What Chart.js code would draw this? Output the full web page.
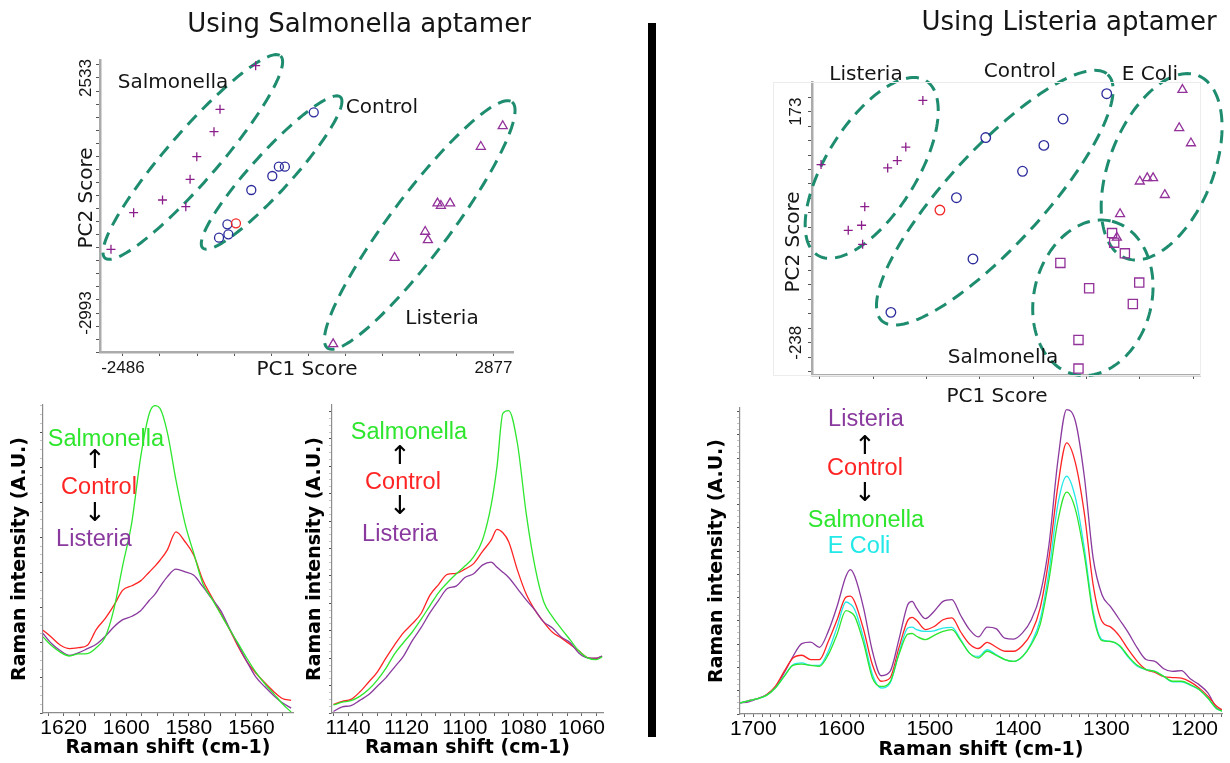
<!DOCTYPE html>
<html>
<head>
<meta charset="utf-8">
<script src="https://cdn.jsdelivr.net/npm/chart.js"></script>
<style>
  body { margin: 0; background: #fff; }
  #fig { position: relative; width: 1230px; height: 763px; overflow: hidden; }
  canvas { position: absolute; }
  #bar { position: absolute; left: 648px; top: 23px; width: 8px; height: 714px; background: #000; }
</style>
</head>
<body>
<div id="fig">
  <canvas id="pcaSal" width="540" height="390" style="left:0;top:0"></canvas>
  <canvas id="pcaList" width="495" height="410" style="left:735px;top:0"></canvas>
  <canvas id="specA" width="300" height="368" style="left:0;top:395px"></canvas>
  <canvas id="specB" width="315" height="368" style="left:295px;top:395px"></canvas>
  <canvas id="specC" width="535" height="368" style="left:695px;top:395px"></canvas>
  <div id="bar"></div>
</div>
<script>
// PCA scores, Salmonella aptamer
const saSalmonellaPC1 = [-565, -1081, -1168, -1417, -1514, -1913, -1576, -2331, -2659];
const saSalmonellaPC2 = [2822, 1797, 1271, 683, 151, -335, -493, -634, -1494];
const saControlPC1 = [276, -142, -229, -324, -628, -974, -850, -960, -1095];
const saControlPC2 = [1727, 448, 448, 229, -100, -907, -883, -1142, -1222];
const saListeriaPC1 = [3011, 2694, 2067, 2116, 2250, 1889, 1928, 1446, 557];
const saListeriaPC2 = [1405, 918, -413, -469, -413, -1080, -1276, -1692, -3721];
const saPC1Labels = [-2486, 2877];
const saPC2Labels = [2533, -2993];

// PCA scores, Listeria aptamer
const laListeriaPC1 = [-107, -139, -155, -173, -298, -216, -222, -247, -220];
const laListeriaPC2 = [193, 110, 86, 73, 79, 4, -29, -38, -63];
const laControlPC1 = [238, 156, 120, 80, 11, -44, -75, -13, -167];
const laControlPC2 = [205, 160, 113, 67, 127, 20, -2, -89, -184];
const laEcoliPC1 = [380, 374, 396, 300, 314, 325, 347, 263, 257];
const laEcoliPC2 = [212, 144, 117, 49, 55, 55, 25, -9, -51];
const laSalmonellaPC1 = [248, 252, 272, 151, 299, 205, 287, 185, 185];
const laSalmonellaPC2 = [-43, -60, -79, -96, -131, -141, -169, -233, -284];
const laPC2Labels = [173, -238];

// index of the highlighted control sample
const controlMark = 6;

// spectra 1545-1630 cm-1
const shiftA = [1626.6, 1623.8, 1621.0, 1618.1, 1615.3, 1612.4, 1609.6, 1606.7, 1603.9, 1601.1, 1598.2, 1595.4, 1592.6, 1590.8, 1589.2, 1586.9, 1584.1, 1581.2, 1578.4, 1575.5, 1572.7, 1569.9, 1567.1, 1564.2, 1561.4, 1558.6, 1555.7, 1552.9, 1550.1, 1547.3];
const salmonellaA = [24.7, 21.8, 19.7, 18.5, 19.2, 19.3, 21.2, 24.7, 33.9, 48.0, 62.0, 83.0, 97.3, 99.8, 98.9, 91.3, 75.6, 61.5, 51.8, 42.0, 37.2, 32.3, 27.4, 22.5, 17.7, 13.3, 9.5, 6.3, 3.0, 0.3];
const controlA = [26.9, 24.5, 22.0, 20.9, 21.2, 22.0, 27.1, 30.7, 35.0, 39.9, 41.3, 42.9, 45.8, 47.7, 49.6, 52.9, 58.8, 55.6, 51.2, 43.1, 37.7, 32.5, 27.4, 21.5, 16.6, 13.0, 9.8, 7.0, 4.7, 4.1];
const listeriaA = [25.8, 22.5, 20.2, 18.7, 19.5, 20.9, 22.3, 24.9, 28.0, 30.3, 31.4, 33.2, 36.6, 38.6, 41.0, 44.2, 46.7, 45.8, 44.7, 41.0, 37.2, 33.4, 27.7, 22.0, 16.6, 11.7, 8.5, 5.7, 3.3, 1.6];

// spectra 1050-1145 cm-1
const shiftB = [1145, 1142, 1139, 1136, 1133, 1130, 1127, 1124, 1121, 1118, 1115, 1112, 1109, 1106, 1103, 1100, 1097, 1094, 1091, 1089, 1087, 1085, 1082, 1079, 1076, 1073, 1070, 1067, 1064, 1061, 1058, 1055, 1053];
const salmonellaB = [2.6, 3.5, 4.0, 5.4, 7.6, 10.7, 14.6, 19.3, 22.9, 26.3, 30.4, 34.8, 39.1, 42.3, 45.1, 47.7, 50.7, 56.1, 67.5, 80.0, 97.3, 98.2, 87.5, 64.8, 47.5, 36.1, 31.2, 27.4, 23.8, 20.2, 17.9, 17.3, 18.2];
const controlB = [2.8, 3.8, 4.4, 6.8, 10.0, 13.3, 17.9, 22.2, 26.1, 29.0, 32.3, 38.2, 41.7, 45.0, 45.3, 46.7, 48.5, 52.4, 56.1, 59.6, 58.5, 55.6, 46.4, 38.6, 33.4, 29.5, 26.2, 24.4, 22.3, 20.2, 18.0, 17.7, 18.4];
const listeriaB = [0.5, 2.0, 2.4, 4.1, 5.9, 8.7, 11.5, 15.0, 18.5, 23.5, 27.7, 32.5, 36.6, 40.4, 41.2, 44.0, 45.2, 48.0, 49.0, 47.3, 45.7, 44.0, 40.4, 36.7, 33.4, 29.6, 27.6, 24.7, 22.9, 19.5, 17.9, 17.8, 18.5];

// spectra 1170-1715 cm-1, Listeria aptamer
const shiftC = [1715, 1705, 1695, 1685, 1675, 1665, 1655, 1645, 1635, 1625, 1615, 1605, 1595, 1590, 1585, 1575, 1565, 1555, 1545, 1535, 1525, 1520, 1515, 1505, 1495, 1485, 1475, 1465, 1455, 1445, 1435, 1425, 1415, 1405, 1395, 1385, 1375, 1365, 1355, 1345, 1335, 1325, 1315, 1305, 1295, 1285, 1275, 1265, 1255, 1245, 1235, 1225, 1215, 1205, 1195, 1185, 1175, 1168];
const listeriaC = [3.6, 4.0, 5.0, 6.3, 8.8, 13.4, 18.8, 23.0, 23.5, 21.8, 27.0, 35.2, 45.0, 47.2, 45.0, 34.6, 20.5, 12.5, 13.9, 24.3, 35.7, 36.8, 34.6, 31.2, 33.6, 36.8, 37.4, 32.2, 27.6, 25.2, 28.4, 27.9, 24.8, 24.5, 26.5, 30.8, 39.0, 55.3, 82.6, 99.5, 95.6, 77.7, 51.0, 39.0, 35.0, 30.8, 26.5, 21.6, 17.8, 17.2, 14.8, 13.9, 14.2, 11.5, 9.6, 6.9, 2.0, 1.2];
const controlC = [3.6, 4.4, 5.0, 6.3, 9.0, 13.9, 18.3, 19.2, 17.8, 17.8, 23.7, 30.8, 38.2, 38.5, 36.6, 27.6, 16.1, 10.7, 11.8, 21.6, 30.6, 31.6, 30.6, 27.6, 28.6, 30.8, 31.4, 26.8, 22.9, 21.4, 23.4, 21.9, 20.5, 20.5, 22.4, 26.5, 34.6, 51.0, 74.4, 88.6, 82.0, 65.7, 42.3, 30.3, 28.4, 25.4, 21.0, 17.2, 14.5, 13.6, 12.2, 11.9, 11.7, 10.5, 8.5, 5.8, 2.5, 1.2];
const ecoliC = [3.6, 4.4, 5.0, 6.1, 8.5, 12.3, 16.1, 16.7, 15.9, 15.9, 20.5, 28.4, 36.6, 35.9, 34.1, 24.8, 12.9, 8.5, 10.1, 19.9, 28.1, 28.4, 27.6, 27.0, 27.2, 28.1, 28.3, 24.3, 19.9, 18.8, 21.0, 19.4, 17.8, 17.2, 18.8, 23.2, 30.8, 46.6, 68.4, 77.7, 70.6, 54.2, 33.6, 24.3, 23.7, 22.1, 18.5, 15.6, 14.5, 13.9, 12.3, 10.5, 10.5, 9.4, 8.0, 5.2, 1.7, 0.9];
const salmonellaC = [3.6, 4.4, 5.0, 6.1, 8.5, 12.3, 15.9, 16.3, 15.9, 15.6, 19.4, 26.1, 33.8, 33.3, 31.9, 23.2, 11.8, 9.0, 10.5, 19.4, 26.1, 26.3, 25.4, 24.3, 25.7, 27.0, 27.6, 24.0, 19.9, 18.3, 20.5, 19.2, 17.8, 17.2, 18.8, 22.7, 29.2, 43.9, 63.0, 72.5, 66.8, 52.1, 32.5, 24.0, 23.7, 22.4, 18.8, 15.9, 14.5, 13.9, 12.3, 10.7, 10.7, 9.6, 8.0, 5.2, 1.7, 0.9];

// cluster outlines: centre plus two conjugate half-axes, in score units
const saClusters = [
  { c: [-1475, 676], a: [1271, 2375], b: [276, -392] },
  { c: [-334, 311], a: [996, 1775], b: [210, -314] },
  { c: [1810, -923], a: [1336, 2892], b: [345, -422] }
];
const laClusters = [
  { c: [-203, 73], a: [102, 155], b: [72, -43] },
  { c: [28, 20], a: [212, 219], b: [66, -58] },
  { c: [341, 75], a: [69, 162], b: [90, -35] },
  { c: [212, -158], a: [36, 136], b: [107, -25] }
];

const PURPLE = '#8b1e8b';
const BLUE = '#2b2b9c';
const RED = '#f02828';
const RING = '#1e8c6e';
const sansFont = '"DejaVu Sans"';
const armFont = '"Liberation Sans"';

function pts(xs, ys) {
  return xs.map((x, i) => ({ x: x, y: ys[i] }));
}

function stepTicks(from, to, step) {
  const out = [];
  for (let k = 0; from + k * step <= to + 1e-6; k++) out.push({ value: +(from + k * step).toFixed(3) });
  return out;
}

// free text: x/y in canvas pixels, or xv/yv in axis units
const notes = {
  id: 'notes',
  afterDraw(chart, args, opts) {
    const { ctx, scales } = chart;
    if (opts.box) {
      ctx.save();
      ctx.strokeStyle = '#ececec';
      ctx.lineWidth = 1;
      const b = opts.box;
      ctx.strokeRect(b[0] + 0.5, b[1] + 0.5, b[2] - b[0], b[3] - b[1]);
      ctx.restore();
    }
    for (const n of opts.items || []) {
      const px = n.xv !== undefined ? scales.x.getPixelForValue(n.xv) : n.x;
      const py = n.yv !== undefined ? scales.y.getPixelForValue(n.yv) : n.y;
      ctx.save();
      ctx.translate(px, py);
      if (n.rot) ctx.rotate(n.rot);
      ctx.font = n.font;
      ctx.fillStyle = n.color || '#151515';
      ctx.textAlign = 'center';
      ctx.textBaseline = 'middle';
      ctx.fillText(n.text, 0, 0);
      ctx.restore();
    }
  }
};

// dashed outlines around the score clusters
const rings = {
  id: 'rings',
  beforeDatasetsDraw(chart, args, opts) {
    const { ctx, scales: { x, y } } = chart;
    ctx.save();
    ctx.strokeStyle = RING;
    ctx.lineWidth = 3;
    ctx.setLineDash([13, 8]);
    for (const r of opts.list) {
      ctx.beginPath();
      for (let i = 0; i <= 144; i++) {
        const t = i / 144 * Math.PI * 2;
        const px = x.getPixelForValue(r.c[0] + r.a[0] * Math.cos(t) + r.b[0] * Math.sin(t));
        const py = y.getPixelForValue(r.c[1] + r.a[1] * Math.cos(t) + r.b[1] * Math.sin(t));
        if (i === 0) ctx.moveTo(px, py); else ctx.lineTo(px, py);
      }
      ctx.closePath();
      ctx.stroke();
    }
    ctx.restore();
  }
};

function scoreSet(data, style, color, radius) {
  return {
    data: data,
    pointStyle: style,
    pointRadius: radius,
    borderColor: color,
    backgroundColor: 'transparent',
    pointBorderWidth: 1.3,
    showLine: false,
    clip: false
  };
}

function pcaChart(id, cfg) {
  new Chart(document.getElementById(id), {
    type: 'scatter',
    data: { datasets: cfg.sets },
    plugins: [rings, notes],
    options: {
      responsive: false,
      animation: false,
      events: [],
      layout: { padding: cfg.pad },
      plugins: {
        legend: { display: false },
        tooltip: { enabled: false },
        rings: { list: cfg.clusters },
        notes: { items: cfg.notes, box: cfg.box }
      },
      scales: {
        x: {
          type: 'linear', min: cfg.x[0], max: cfg.x[1],
          afterFit: s => { s.height = cfg.xh; },
          afterBuildTicks: s => { s.ticks = cfg.xTicks; },
          ticks: { display: false },
          grid: { drawOnChartArea: false, tickLength: 4, color: '#555' },
          border: { color: '#ababab', width: 2.5 }
        },
        y: {
          type: 'linear', min: cfg.y[0], max: cfg.y[1],
          afterFit: s => { s.width = cfg.yw; },
          afterBuildTicks: s => { s.ticks = cfg.yTicks; },
          ticks: { display: false },
          grid: { drawOnChartArea: false, tickLength: 4, color: '#555' },
          border: { color: '#ababab', width: 2.5 }
        }
      }
    }
  });
}

const noteFont = '20px ' + sansFont;
const tickFont = '17px ' + armFont;
const titleFont = '26px ' + sansFont;
const up = -Math.PI / 2;

const saControlColors = saControlPC1.map((v, i) => i === controlMark ? RED : BLUE);
const laControlColors = laControlPC1.map((v, i) => i === controlMark ? RED : BLUE);

pcaChart('pcaSal', {
  x: [-2818, 3160], y: [-3909, 2956],
  pad: { top: 60, right: 27 }, yw: 100, xh: 38,
  xTicks: stepTicks(saPC1Labels[0], saPC1Labels[1], (saPC1Labels[1] - saPC1Labels[0]) / 10),
  yTicks: stepTicks(saPC2Labels[1] - 3 * (saPC2Labels[0] - saPC2Labels[1]) / 18, 2956, (saPC2Labels[0] - saPC2Labels[1]) / 18),
  clusters: saClusters,
  sets: [
    scoreSet(pts(saSalmonellaPC1, saSalmonellaPC2), 'cross', PURPLE, 4.5),
    Object.assign(scoreSet(pts(saControlPC1, saControlPC2), 'circle', BLUE, 4.5), { borderColor: saControlColors }),
    scoreSet(pts(saListeriaPC1, saListeriaPC2), 'triangle', '#93319a', 5.2)
  ],
  notes: [
    { text: 'Using Salmonella aptamer', x: 359, y: 25, font: titleFont },
    { text: 'Salmonella', x: 173, y: 83, font: noteFont },
    { text: 'Control', x: 382, y: 108, font: noteFont },
    { text: 'Listeria', x: 442, y: 319, font: noteFont },
    { text: 'PC2 Score', x: 87, y: 198, font: noteFont, rot: up },
    { text: 'PC1 Score', x: 307, y: 370, font: noteFont },
    ...saPC2Labels.map(v => ({ text: String(v), x: 86, yv: v, font: tickFont, rot: up })),
    ...saPC1Labels.map(v => ({ text: String(v), xv: v, y: 368, font: tickFont }))
  ]
});

pcaChart('pcaList', {
  x: [-315, 413], y: [-295.4, 225.8],
  pad: { top: 82, right: 30 }, yw: 77, xh: 35,
  xTicks: stepTicks(-300, 400, 100),
  yTicks: stepTicks(laPC2Labels[0] - 18 * (laPC2Labels[0] - laPC2Labels[1]) / 16, 225.8, (laPC2Labels[0] - laPC2Labels[1]) / 16),
  clusters: laClusters,
  box: [38, 82, 465, 375],
  sets: [
    scoreSet(pts(laListeriaPC1, laListeriaPC2), 'cross', PURPLE, 4.5),
    Object.assign(scoreSet(pts(laControlPC1, laControlPC2), 'circle', BLUE, 4.8), { borderColor: laControlColors }),
    scoreSet(pts(laEcoliPC1, laEcoliPC2), 'triangle', '#93319a', 5.2),
    scoreSet(pts(laSalmonellaPC1, laSalmonellaPC2), 'rect', '#93319a', 6.5)
  ],
  notes: [
    { text: 'Using Listeria aptamer', x: 334, y: 23, font: titleFont },
    { text: 'Listeria', x: 131, y: 75, font: noteFont },
    { text: 'Control', x: 285, y: 72, font: noteFont },
    { text: 'E Coli', x: 415, y: 75, font: noteFont },
    { text: 'Salmonella', x: 268, y: 358, font: noteFont },
    { text: 'PC2 Score', x: 59, y: 242, font: noteFont, rot: up },
    { text: 'PC1 Score', x: 262, y: 397, font: noteFont },
    ...laPC2Labels.map(v => ({ text: String(v), x: 61, yv: v, font: tickFont, rot: up }))
  ]
});

// Raman spectra
const GREEN = '#2ee62e';
const SPEC_RED = '#ff2424';
const SPEC_PURPLE = '#8a3a9e';
const CYAN = '#22e8e8';
const wordFont = '23.5px ' + armFont;
const arrowFont = '26px ' + sansFont;

function line(xs, ys, color) {
  return {
    data: pts(xs, ys),
    borderColor: color,
    borderWidth: 1.3,
    pointRadius: 0,
    showLine: true,
    fill: false,
    cubicInterpolationMode: 'monotone'
  };
}

function spectrumChart(id, cfg) {
  new Chart(document.getElementById(id), {
    type: 'scatter',
    data: { datasets: cfg.sets },
    plugins: [notes],
    options: {
      responsive: false,
      animation: false,
      events: [],
      layout: { padding: cfg.pad },
      plugins: {
        legend: { display: false },
        tooltip: { enabled: false },
        notes: { items: cfg.notes }
      },
      scales: {
        x: {
          type: 'linear', reverse: true, min: cfg.x[0], max: cfg.x[1],
          afterFit: s => { s.height = cfg.xh; },
          afterBuildTicks: s => { s.ticks = stepTicks(Math.ceil(cfg.x[0] / cfg.minor) * cfg.minor, cfg.x[1], cfg.minor); },
          ticks: {
            autoSkip: false, maxRotation: 0, padding: 0, color: '#000',
            font: { family: armFont, size: 21 },
            callback: v => (v % cfg.major === 0 ? String(v) : '')
          },
          grid: { drawOnChartArea: false, tickLength: 3, color: '#666' },
          border: { color: '#8c8c8c', width: 1.2 },
          title: {
            display: true, text: 'Raman shift (cm-1)', color: '#000',
            font: { family: sansFont, size: 19, weight: 'bold' },
            padding: { top: 0, bottom: cfg.tb }
          }
        },
        y: {
          type: 'linear', min: 0, max: 100,
          afterFit: s => { s.width = cfg.yw; },
          // major marks with three faint minor marks between them
          afterBuildTicks: s => { s.ticks = stepTicks(0, 100, cfg.ystep / 4); },
          ticks: { display: false },
          grid: {
            drawOnChartArea: false, tickLength: 3,
            tickColor: c => (c.index % 4 === 0 ? '#555' : '#c4c4c4')
          },
          border: { color: '#8c8c8c', width: 1.2 },
          title: {
            display: true, text: 'Raman intensity (A.U.)', color: '#000',
            font: { family: sansFont, size: 19, weight: 'bold' },
            padding: { top: cfg.tl, bottom: 0 }
          }
        }
      }
    }
  });
}

spectrumChart('specA', {
  x: [1546.7, 1626.6], minor: 5, major: 20, ystep: 11.4,
  pad: { top: 10, right: 7 }, yw: 43, xh: 50, tb: 3.5, tl: 8.5,
  sets: [line(shiftA, salmonellaA, GREEN), line(shiftA, listeriaA, SPEC_PURPLE), line(shiftA, controlA, SPEC_RED)],
  notes: [
    { text: 'Salmonella', x: 106, y: 45, font: wordFont, color: GREEN },
    { text: '↑', x: 95, y: 66, font: arrowFont, color: '#000' },
    { text: 'Control', x: 99, y: 93, font: wordFont, color: SPEC_RED },
    { text: '↓', x: 95, y: 119, font: arrowFont, color: '#000' },
    { text: 'Listeria', x: 94, y: 145, font: wordFont, color: SPEC_PURPLE }
  ]
});

spectrumChart('specB', {
  x: [1052.7, 1145.5], minor: 5, major: 20, ystep: 8.9,
  pad: { top: 10, right: 7 }, yw: 37, xh: 50, tb: 3.5, tl: 8.5,
  sets: [line(shiftB, salmonellaB, GREEN), line(shiftB, listeriaB, SPEC_PURPLE), line(shiftB, controlB, SPEC_RED)],
  notes: [
    { text: 'Salmonella', x: 114, y: 38, font: wordFont, color: GREEN },
    { text: '↑', x: 105, y: 62, font: arrowFont, color: '#000' },
    { text: 'Control', x: 108, y: 88, font: wordFont, color: SPEC_RED },
    { text: '↓', x: 105, y: 112, font: arrowFont, color: '#000' },
    { text: 'Listeria', x: 105, y: 140, font: wordFont, color: SPEC_PURPLE }
  ]
});

spectrumChart('specC', {
  x: [1169, 1715], minor: 10, major: 100, ystep: 7.6,
  pad: { top: 13, right: 8 }, yw: 45, xh: 49, tb: 1.5, tl: 10.5,
  sets: [line(shiftC, salmonellaC, GREEN), line(shiftC, ecoliC, CYAN), line(shiftC, controlC, SPEC_RED), line(shiftC, listeriaC, SPEC_PURPLE)],
  notes: [
    { text: 'Listeria', x: 171, y: 25, font: wordFont, color: SPEC_PURPLE },
    { text: '↑', x: 170, y: 52, font: arrowFont, color: '#000' },
    { text: 'Control', x: 170, y: 74, font: wordFont, color: SPEC_RED },
    { text: '↓', x: 170, y: 99, font: arrowFont, color: '#000' },
    { text: 'Salmonella', x: 171, y: 126, font: wordFont, color: GREEN },
    { text: 'E Coli', x: 164, y: 152, font: wordFont, color: CYAN }
  ]
});
</script>
</body>
</html>
